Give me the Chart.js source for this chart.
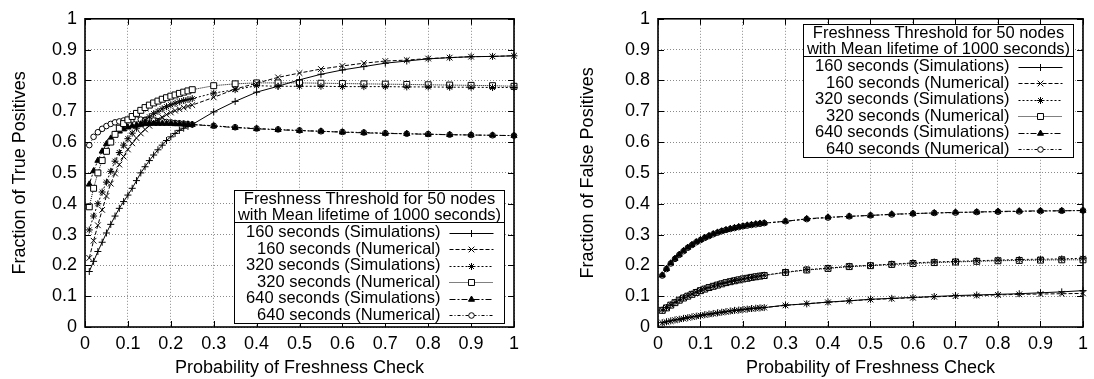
<!DOCTYPE html>
<html>
<head>
<meta charset="utf-8">
<script src="https://cdn.jsdelivr.net/npm/chart.js@4.4.1/dist/chart.umd.min.js"></script>
<style>
  body { margin: 0; background: #fff; }
  .wrap { position: relative; width: 1094px; height: 379px; }
  canvas { position: absolute; top: 0; }
  #truePosChart { left: 0; }
  #falsePosChart { left: 547px; }
</style>
</head>
<body>
<div class="wrap">
  <canvas id="truePosChart" width="547" height="379"></canvas>
  <canvas id="falsePosChart" width="547" height="379"></canvas>
</div>
<script>
// probability of freshness check (x) shared by every series
const checkProb = [0.01, 0.02, 0.03, 0.04, 0.05, 0.06, 0.07, 0.08, 0.09, 0.10,
  0.11, 0.12, 0.13, 0.14, 0.15, 0.16, 0.17, 0.18, 0.19, 0.20,
  0.21, 0.22, 0.23, 0.24, 0.25, 0.30, 0.35, 0.40, 0.45, 0.50,
  0.55, 0.60, 0.65, 0.70, 0.75, 0.80, 0.85, 0.90, 0.95, 1.00];

const axisTicks = [0, 0.1, 0.2, 0.3, 0.4, 0.5, 0.6, 0.7, 0.8, 0.9, 1];

const seriesLabels = [
  "160 seconds (Simulations)",
  "160 seconds (Numerical)",
  "320 seconds (Simulations)",
  "320 seconds (Numerical)",
  "640 seconds (Simulations)",
  "640 seconds (Numerical)"
];
const legendTitle = ["Freshness Threshold for 50 nodes", "with Mean lifetime of 1000 seconds)"];

// fraction of true positives
const tp160Sim = [0.18, 0.213, 0.245, 0.275, 0.305, 0.333, 0.36, 0.385, 0.407, 0.428,
  0.45, 0.475, 0.50, 0.52, 0.54, 0.558, 0.575, 0.59, 0.605, 0.617,
  0.628, 0.638, 0.645, 0.651, 0.657, 0.698, 0.732, 0.762, 0.781, 0.802,
  0.82, 0.834, 0.845, 0.856, 0.863, 0.87, 0.874, 0.877, 0.878, 0.88];
const tp160Num = [0.224, 0.28, 0.33, 0.38, 0.425, 0.465, 0.498, 0.527, 0.553, 0.576,
  0.596, 0.613, 0.628, 0.641, 0.653, 0.663, 0.673, 0.681, 0.689, 0.696,
  0.702, 0.707, 0.712, 0.716, 0.72, 0.745, 0.772, 0.791, 0.81, 0.824,
  0.837, 0.847, 0.856, 0.863, 0.866, 0.871, 0.874, 0.877, 0.878, 0.88];
const tp320Sim = [0.315, 0.36, 0.40, 0.438, 0.47, 0.505, 0.538, 0.566, 0.59, 0.611,
  0.629, 0.645, 0.659, 0.671, 0.682, 0.692, 0.70, 0.708, 0.715, 0.721,
  0.726, 0.731, 0.735, 0.738, 0.741, 0.759, 0.77, 0.783, 0.781, 0.781,
  0.781, 0.78, 0.78, 0.78, 0.779, 0.779, 0.778, 0.778, 0.777, 0.777];
const tp320Num = [0.39, 0.45, 0.50, 0.54, 0.57, 0.60, 0.625, 0.645, 0.66, 0.672,
  0.683, 0.693, 0.703, 0.712, 0.72, 0.727, 0.733, 0.739, 0.744, 0.749,
  0.753, 0.758, 0.762, 0.766, 0.77, 0.783, 0.789, 0.792, 0.792, 0.792,
  0.791, 0.79, 0.789, 0.788, 0.787, 0.786, 0.785, 0.784, 0.783, 0.781];
const tp640Sim = [0.463, 0.506, 0.54, 0.57, 0.594, 0.612, 0.625, 0.635, 0.642, 0.648,
  0.652, 0.655, 0.657, 0.659, 0.66, 0.66, 0.66, 0.66, 0.66, 0.66,
  0.659, 0.659, 0.658, 0.658, 0.657, 0.652, 0.647, 0.643, 0.64, 0.637,
  0.635, 0.632, 0.63, 0.628, 0.627, 0.625, 0.624, 0.623, 0.622, 0.621];
const tp640Num = [0.59, 0.617, 0.632, 0.643, 0.652, 0.659, 0.664, 0.667, 0.67, 0.672,
  0.673, 0.673, 0.673, 0.672, 0.671, 0.67, 0.668, 0.667, 0.665, 0.664,
  0.662, 0.661, 0.66, 0.658, 0.657, 0.653, 0.648, 0.644, 0.641, 0.638,
  0.635, 0.633, 0.631, 0.629, 0.627, 0.626, 0.624, 0.623, 0.622, 0.621];

// fraction of false positives
const fp160Sim = [0.014, 0.017, 0.02, 0.023, 0.025, 0.028, 0.03, 0.033, 0.035, 0.037,
  0.04, 0.042, 0.044, 0.046, 0.048, 0.05, 0.052, 0.054, 0.055, 0.057,
  0.058, 0.06, 0.061, 0.062, 0.063, 0.071, 0.075, 0.081, 0.085, 0.09,
  0.093, 0.096, 0.099, 0.102, 0.104, 0.106, 0.108, 0.111, 0.114, 0.118];
const fp160Num = [0.013, 0.016, 0.019, 0.022, 0.025, 0.027, 0.03, 0.032, 0.035, 0.037,
  0.039, 0.041, 0.043, 0.045, 0.047, 0.049, 0.051, 0.053, 0.054, 0.056,
  0.058, 0.059, 0.06, 0.062, 0.063, 0.07, 0.076, 0.08, 0.085, 0.089,
  0.092, 0.095, 0.098, 0.1, 0.102, 0.104, 0.106, 0.107, 0.108, 0.109];
const fp320Sim = [0.055, 0.063, 0.072, 0.08, 0.088, 0.095, 0.101, 0.107, 0.113, 0.119,
  0.124, 0.128, 0.133, 0.137, 0.141, 0.144, 0.148, 0.151, 0.153, 0.156,
  0.159, 0.161, 0.163, 0.166, 0.168, 0.178, 0.186, 0.191, 0.197, 0.2,
  0.204, 0.208, 0.211, 0.213, 0.215, 0.217, 0.219, 0.22, 0.221, 0.223];
const fp320Num = [0.054, 0.062, 0.071, 0.079, 0.087, 0.094, 0.1, 0.106, 0.112, 0.118,
  0.123, 0.128, 0.132, 0.136, 0.14, 0.144, 0.147, 0.15, 0.153, 0.156,
  0.158, 0.161, 0.163, 0.165, 0.167, 0.177, 0.185, 0.19, 0.196, 0.199,
  0.203, 0.206, 0.209, 0.211, 0.213, 0.215, 0.216, 0.217, 0.218, 0.218];
const fp640Sim = [0.168, 0.189, 0.207, 0.222, 0.235, 0.247, 0.258, 0.267, 0.276, 0.283,
  0.29, 0.296, 0.302, 0.307, 0.311, 0.315, 0.319, 0.322, 0.325, 0.327,
  0.33, 0.332, 0.334, 0.336, 0.337, 0.343, 0.351, 0.356, 0.359, 0.362,
  0.366, 0.368, 0.37, 0.372, 0.373, 0.375, 0.376, 0.377, 0.377, 0.378];
const fp640Num = [0.167, 0.188, 0.206, 0.221, 0.234, 0.246, 0.257, 0.266, 0.275, 0.282,
  0.289, 0.295, 0.301, 0.306, 0.311, 0.315, 0.318, 0.321, 0.324, 0.327,
  0.329, 0.331, 0.333, 0.335, 0.337, 0.343, 0.35, 0.355, 0.359, 0.362,
  0.365, 0.368, 0.37, 0.371, 0.373, 0.374, 0.375, 0.376, 0.377, 0.378];

// gnuplot-like monochrome line types, one per series
const lineTypes = [
  { dash: [], point: 'cross', radius: 3.5, fill: '#000' },
  { dash: [4, 2], point: 'crossRot', radius: 4, fill: '#000' },
  { dash: [2, 2], point: 'star', radius: 3.5, fill: '#000' },
  { dash: [1, 1], point: 'rect', radius: 4.2, fill: '#fff' },
  { dash: [6, 2, 2, 2], point: 'triangle', radius: 3.5, fill: '#000' },
  { dash: [3, 2, 1, 2], point: 'circle', radius: 2.8, fill: '#fff' }
];

const fontFamily = '"Liberation Sans", Arial, Helvetica, sans-serif';

// frame, inward tick marks and the boxed key
const plotFrame = {
  id: 'plotFrame',
  afterDraw(chart, args, opts) {
    const { ctx, chartArea: a, scales: { x, y } } = chart;
    ctx.save();
    ctx.setLineDash([]);
    ctx.strokeStyle = '#000';
    ctx.lineWidth = 1;
    ctx.beginPath();
    axisTicks.forEach(v => {
      const px = Math.round(x.getPixelForValue(v)) + 0.5;
      const py = Math.round(y.getPixelForValue(v)) + 0.5;
      ctx.moveTo(px, a.bottom); ctx.lineTo(px, a.bottom - 6);
      ctx.moveTo(px, a.top); ctx.lineTo(px, a.top + 6);
      ctx.moveTo(a.left, py); ctx.lineTo(a.left + 6, py);
      ctx.moveTo(a.right, py); ctx.lineTo(a.right - 6, py);
    });
    ctx.stroke();
    ctx.lineWidth = 1.6;
    ctx.strokeRect(a.left, a.top, a.width, a.height);

    // key box
    const w = 270, h = 133;
    const bx = Math.round(a.right - 10 - w) + 0.5;
    const by = Math.round(opts.corner === 'top' ? a.top + 5 : a.bottom - 4 - h) + 0.5;
    ctx.fillStyle = '#fff';
    ctx.fillRect(bx, by, w, h);
    ctx.lineWidth = 1;
    ctx.strokeRect(bx, by, w, h);
    ctx.beginPath();
    ctx.moveTo(bx, by + 32); ctx.lineTo(bx + w, by + 32);
    ctx.stroke();

    ctx.fillStyle = '#000';
    ctx.font = '16.5px ' + fontFamily;
    ctx.textBaseline = 'middle';
    ctx.textAlign = 'center';
    legendTitle.forEach((t, i) => ctx.fillText(t, bx + w / 2, by + 9 + i * 16));

    ctx.textAlign = 'right';
    chart.data.datasets.forEach((ds, i) => {
      const ry = by + 42 + i * 16.5;
      ctx.fillStyle = '#000';
      ctx.fillText(ds.label, bx + w - 64, ry);
      const lt = lineTypes[i];
      ctx.setLineDash(lt.dash);
      ctx.beginPath();
      ctx.moveTo(bx + w - 55, Math.round(ry) + 0.5);
      ctx.lineTo(bx + w - 11, Math.round(ry) + 0.5);
      ctx.stroke();
      ctx.setLineDash([]);
      ctx.fillStyle = lt.fill;
      Chart.helpers.drawPoint(ctx, { pointStyle: lt.point, radius: lt.radius, rotation: 0, borderWidth: 1 },
        bx + w - 33, Math.round(ry) + 0.5);
    });
    ctx.restore();
  }
};

function makeChart(canvasId, yTitle, values, layout) {
  const datasets = values.map((vals, i) => ({
    label: seriesLabels[i],
    data: checkProb.map((p, k) => ({ x: p, y: vals[k] })),
    borderColor: '#000',
    borderWidth: 1,
    borderDash: lineTypes[i].dash,
    pointStyle: lineTypes[i].point,
    pointRadius: lineTypes[i].radius,
    pointBorderColor: '#000',
    pointBackgroundColor: lineTypes[i].fill,
    pointBorderWidth: 1,
    tension: 0,
    fill: false,
    clip: 8
  }));

  const tickFont = { family: fontFamily, size: 18 };
  const setTicks = s => { s.ticks = axisTicks.map(v => ({ value: v })); };
  const fmt = v => String(+v.toFixed(1));

  return new Chart(document.getElementById(canvasId), {
    type: 'line',
    data: { datasets },
    plugins: [plotFrame],
    options: {
      responsive: false,
      animation: false,
      devicePixelRatio: 1,
      layout: { padding: { top: 17, right: layout.rightPad, left: 0, bottom: 0 } },
      plugins: {
        legend: { display: false },
        tooltip: { enabled: false },
        plotFrame: { corner: layout.corner }
      },
      scales: {
        x: {
          type: 'linear', min: 0, max: 1,
          afterBuildTicks: setTicks,
          afterFit: s => { s.height = 52; },
          ticks: { font: tickFont, color: '#000', padding: 6, maxRotation: 0, callback: fmt },
          grid: { color: '#8a8a8a', lineWidth: 1, drawTicks: false },
          border: { display: false, dash: [1, 2] },
          title: { display: true, text: 'Probability of Freshness Check', font: tickFont, color: '#000',
            padding: { top: 0, bottom: 0 } }
        },
        y: {
          type: 'linear', min: 0, max: 1,
          afterBuildTicks: setTicks,
          afterFit: s => { s.width = layout.axisWidth; },
          ticks: { font: tickFont, color: '#000', padding: 8, callback: fmt },
          grid: { color: '#8a8a8a', lineWidth: 1, drawTicks: false },
          border: { display: false, dash: [1, 2] },
          title: { display: true, text: yTitle, font: tickFont, color: '#000',
            padding: { top: layout.titlePad, bottom: 0 } }
        }
      }
    }
  });
}

makeChart('truePosChart', 'Fraction of True Positives',
  [tp160Sim, tp160Num, tp320Sim, tp320Num, tp640Sim, tp640Num],
  { axisWidth: 85, rightPad: 33, titlePad: 9, corner: 'bottom' });

makeChart('falsePosChart', 'Fraction of False Positives',
  [fp160Sim, fp160Num, fp320Sim, fp320Num, fp640Sim, fp640Num],
  { axisWidth: 111, rightPad: 7, titlePad: 30, corner: 'top' });
</script>
</body>
</html>
